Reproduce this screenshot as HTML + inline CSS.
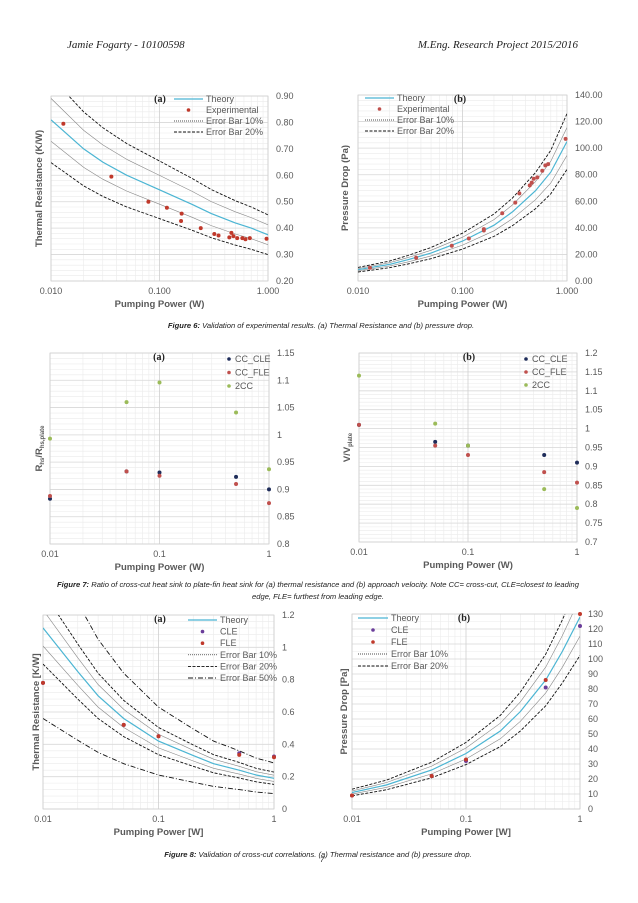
<!DOCTYPE html>
<html><head><meta charset="utf-8">
<style>
html,body{margin:0;padding:0;background:#fff;}
svg{display:block;}
text{font-family:"Liberation Sans",sans-serif;}
.tick{font-size:9px;fill:#595959;}
.ttl{font-size:9.5px;font-weight:bold;fill:#595959;}
.leg{font-size:9px;fill:#595959;}
.cap{font-family:"Liberation Sans",sans-serif;font-size:7.6px;font-style:italic;fill:#222;}
.hdr{font-family:"Liberation Serif",serif;font-size:11px;font-style:italic;fill:#222;}
.pl{font-family:"Liberation Serif",serif;font-size:10px;font-weight:bold;fill:#222;}
</style></head>
<body>
<svg id="page" width="638" height="903" viewBox="0 0 638 903" xmlns="http://www.w3.org/2000/svg">
<text class="hdr" x="67" y="48">Jamie Fogarty - 10100598</text>
<text class="hdr" x="578" y="48" text-anchor="end">M.Eng. Research Project 2015/2016</text>
<text class="cap" x="321" y="328" text-anchor="middle"><tspan font-weight="bold">Figure 6:</tspan> Validation of experimental results. (a) Thermal Resistance and (b) pressure drop.</text>
<text class="cap" x="318" y="587" text-anchor="middle"><tspan font-weight="bold">Figure 7:</tspan> Ratio of cross-cut heat sink to plate-fin heat sink for (a) thermal resistance and (b) approach velocity. Note CC= cross-cut, CLE=closest to leading</text>
<text class="cap" x="318" y="599" text-anchor="middle">edge, FLE= furthest from leading edge.</text>
<text class="cap" x="318" y="857" text-anchor="middle"><tspan font-weight="bold">Figure 8:</tspan> Validation of cross-cut correlations. (a) Thermal resistance and (b) pressure drop.</text>
<text class="cap" x="320" y="862">7</text>
</svg>
<script>
// ---------- data ----------
const f6aTheoryX=[0.01,0.02,0.03,0.05,0.1,0.2,0.3,0.5,0.7,1];
const f6aTheoryY=[0.81,0.70,0.65,0.60,0.545,0.49,0.455,0.42,0.40,0.375];
const f6aExpX=[0.013,0.036,0.079,0.117,0.16,0.158,0.24,0.32,0.35,0.44,0.46,0.48,0.52,0.58,0.62,0.68,0.97];
const f6aExpY=[0.795,0.595,0.50,0.477,0.455,0.427,0.40,0.378,0.372,0.365,0.382,0.37,0.362,0.362,0.358,0.362,0.36];
const f6aYTicks=[0.2,0.3,0.4,0.5,0.6,0.7,0.8,0.9];
const f6aYLabels=["0.20","0.30","0.40","0.50","0.60","0.70","0.80","0.90"];
const f6XLabels=["0.010","0.100","1.000"];

const f6bTheoryX=[0.01,0.02,0.03,0.05,0.1,0.2,0.3,0.5,0.7,1];
const f6bTheoryY=[8.5,12.5,16,21,30,42,52,68,82,105];
const f6bExpX=[0.013,0.036,0.079,0.115,0.16,0.16,0.24,0.32,0.35,0.44,0.46,0.48,0.52,0.58,0.62,0.66,0.97];
const f6bExpY=[10,17.5,26.5,32,38,39,51,59,66,72,74,77,78,83,87,88,107];
const f6bYTicks=[0,20,40,60,80,100,120,140];
const f6bYLabels=["0.00","20.00","40.00","60.00","80.00","100.00","120.00","140.00"];

const f7X=[0.01,0.05,0.1,0.5,1];
const f7aCLE=[0.883,0.933,0.931,0.923,0.90];
const f7aFLE=[0.888,0.933,0.925,0.91,0.875];
const f7a2CC=[0.993,1.06,1.096,1.041,0.937];
const f7aYTicks=[0.8,0.85,0.9,0.95,1,1.05,1.1,1.15];
const f7aYLabels=["0.8","0.85","0.9","0.95","1","1.05","1.1","1.15"];
const f7bCLE=[1.01,0.965,0.955,0.93,0.91];
const f7bFLE=[1.01,0.955,0.93,0.885,0.857];
const f7b2CC=[1.14,1.013,0.955,0.84,0.79];
const f7bYTicks=[0.7,0.75,0.8,0.85,0.9,0.95,1,1.05,1.1,1.15,1.2];
const f7bYLabels=["0.7","0.75","0.8","0.85","0.9","0.95","1","1.05","1.1","1.15","1.2"];
const f7XLabels=["0.01","0.1","1"];

const f8aTheoryX=[0.01,0.02,0.03,0.05,0.1,0.2,0.3,0.5,0.7,1];
const f8aTheoryY=[1.12,0.85,0.70,0.56,0.42,0.33,0.28,0.24,0.21,0.19];
const f8aCLEY=[0.78,0.52,0.45,0.345,0.325];
const f8aFLEY=[0.78,0.52,0.45,0.335,0.32];
const f8aYTicks=[0,0.2,0.4,0.6,0.8,1,1.2];
const f8aYLabels=["0","0.2","0.4","0.6","0.8","1","1.2"];
const f8bTheoryX=[0.01,0.02,0.05,0.1,0.2,0.3,0.5,0.7,1];
const f8bTheoryY=[11,16,26,37,52,65,86,105,128];
const f8bCLEY=[9,22,32,81,122];
const f8bFLEY=[9,22,33,86,130];
const f8bYTicks=[0,10,20,30,40,50,60,70,80,90,100,110,120,130];
const f8bYLabels=["0","10","20","30","40","50","60","70","80","90","100","110","120","130"];
const f8PX=[0.01,0.05,0.1,0.5,1];

// ---------- drawing ----------
const NS="http://www.w3.org/2000/svg";
const page=document.getElementById('page');
function el(tag,attrs,parent){const e=document.createElementNS(NS,tag);for(const k in attrs)e.setAttribute(k,attrs[k]);(parent||page).appendChild(e);return e;}

function chart(c){
  const g=el('g',{});
  
  
  const y0=c.yTicks[0],y1=c.yTicks[c.yTicks.length-1];
  const sx=v=>c.L+(Math.log10(v)+2)/2*(c.R-c.L);
  const sy=v=>c.B-(v-y0)/(y1-y0)*(c.B-c.T);
  for(let d=0.01;d<1;d*=10)for(let m=2;m<10;m++){
    const l=el('line',{x1:sx(d*m),x2:sx(d*m),y1:c.T,y2:c.B,stroke:'#ebebeb','stroke-width':0.6},g);
    
    
  }
  const step=(c.yTicks[1]-c.yTicks[0])/c.ySub;
  for(let i=0;i<(c.yTicks.length-1)*c.ySub;i++){
    const v=y0+i*step;
    const l=el('line',{x1:c.L,x2:c.R,y1:sy(v),y2:sy(v),stroke:'#ebebeb','stroke-width':0.6},g);
    
    
  }
  c.yTicks.forEach((v,i)=>{
    const l=el('line',{x1:c.L,x2:c.R,y1:sy(v),y2:sy(v),stroke:'#d9d9d9','stroke-width':0.8},g);
    
    
    const t=el('text',{x:c.R+8,y:sy(v)+3,class:'tick'},g);
    t.textContent=c.yLabels[i];
    
    
  });
  [0.01,0.1,1].forEach((v,i)=>{
    const l=el('line',{x1:sx(v),x2:sx(v),y1:c.T,y2:c.B,stroke:'#d0d0d0','stroke-width':0.8},g);
    
    
    const t=el('text',{x:sx(v),y:c.B+13,class:'tick','text-anchor':'middle'},g);
    t.textContent=c.xLabels[i];
    
    
  });
  const bx=el('rect',{x:c.L,y:c.T,width:c.R-c.L,height:c.B-c.T,fill:'none',stroke:'#d0d0d0','stroke-width':0.8},g);
  
  
  const clip=el('clipPath',{id:c.name+'-clip'},g);
  el('rect',{x:c.L,y:c.T,width:c.R-c.L,height:c.B-c.T},clip);
  const lines=el('g',{'clip-path':'url(#'+c.name+'-clip)'},g);
  (c.lines||[]).forEach(s=>{
    const d=s.x.map((x,i)=>(i?'L':'M')+sx(x).toFixed(1)+','+sy(s.y[i]*s.f).toFixed(1)).join(' ');
    const p=el('path',{d:d,fill:'none',stroke:s.col,'stroke-width':s.w,'stroke-dasharray':s.dash||'none'},lines);
    
    
  });
  (c.pts||[]).forEach(s=>{
    s.x.forEach((x,i)=>{
      const p=el('circle',{cx:sx(x),cy:sy(s.y[i]),r:2,fill:s.col},g);
      
      
    });
  });
  const xt=el('text',{x:(c.L+c.R)/2,y:c.B+26,class:'ttl','text-anchor':'middle'},g);
  xt.textContent=c.xTitle;
  
  
  const yt=el('text',{x:0,y:0,class:'ttl','text-anchor':'middle',transform:'translate('+c.yTX+','+(c.T+c.B)/2+') rotate(-90)'},g);
  if(c.yTitleHTML){yt.innerHTML=c.yTitleHTML;}else yt.textContent=c.yTitle;
  
  
  const pl=el('text',{x:c.pl[0],y:c.pl[1],class:'pl','text-anchor':'middle'},g);
  pl.textContent=c.pl[2];
  
  
  c.leg.forEach((it,i)=>{
    const y=c.legY+i*c.legDy;
    if(it.type==='line'){
      const l=el('line',{x1:c.legX,x2:c.legX+c.legW,y1:y,y2:y,stroke:it.col,'stroke-width':it.w,'stroke-dasharray':it.dash||'none'},g);
      
      
    }else{
      const m=el('circle',{cx:c.legX+c.legW/2,cy:y,r:1.8,fill:it.col},g);
      
      
    }
    const t=el('text',{x:c.legX+c.legW+3,y:y+3,class:'leg'},g);
    t.textContent=it.label;
    
    
  });
}
const BL='#4bb5d3',K='#111',RD='#c0392b',NV='#1f2d5a',GR='#9bbb59',RB='#c0504d',PU='#6a3d9a';
const d20='3,1.5',d50='5,2,1,2';
function errLines(x,y,fs){
  const out=[{name:'theory-line',x:x,y:y,f:1,col:BL,w:1.2}];
  fs.forEach(f=>{
    const a=Math.abs(f-1);
    const col=a<0.11?'#888':K, dash=a<0.11?'none':(a<0.21?d20:d50), w=a<0.11?0.6:0.9;
    out.push({name:'error-bar-'+Math.round(a*100)+'-line',x:x,y:y,f:f,col:col,w:w,dash:dash});
  });
  return out;
}
chart({name:'fig6a-thermal-resistance',L:51,R:268,T:96,B:281,yTicks:f6aYTicks,yLabels:f6aYLabels,ySub:5,xLabels:f6XLabels,
 xTitle:'Pumping Power (W)',yTitle:'Thermal Resistance  (K/W)',yTX:42,pl:[160,102,'(a)'],
 lines:errLines(f6aTheoryX,f6aTheoryY,[1.1,0.9,1.2,0.8]),
 pts:[{name:'experimental',x:f6aExpX,y:f6aExpY,col:RD}],
 legX:174,legY:99,legDy:11,legW:29,leg:[{type:'line',col:BL,w:1.3,label:'Theory'},{type:'pt',col:RD,label:'Experimental'},{type:'line',col:K,w:0.7,dash:'1,1',label:'Error Bar 10%'},{type:'line',col:K,w:0.9,dash:d20,label:'Error Bar 20%'}]});
chart({name:'fig6b-pressure-drop',L:358,R:567,T:95,B:281,yTicks:f6bYTicks,yLabels:f6bYLabels,ySub:5,xLabels:f6XLabels,
 xTitle:'Pumping Power (W)',yTitle:'Pressure Drop (Pa)',yTX:348,pl:[460,102,'(b)'],
 lines:errLines(f6bTheoryX,f6bTheoryY,[1.1,0.9,1.2,0.8]),
 pts:[{name:'experimental',x:f6bExpX,y:f6bExpY,col:RB}],
 legX:365,legY:98,legDy:11,legW:29,leg:[{type:'line',col:BL,w:1.3,label:'Theory'},{type:'pt',col:RB,label:'Experimental'},{type:'line',col:K,w:0.7,dash:'1,1',label:'Error Bar 10%'},{type:'line',col:K,w:0.9,dash:d20,label:'Error Bar 20%'}]});
chart({name:'fig7a-resistance-ratio',L:50,R:269,T:353,B:544,yTicks:f7aYTicks,yLabels:f7aYLabels,ySub:5,xLabels:f7XLabels,
 xTitle:'Pumping Power (W)',yTitleHTML:'R<tspan font-size="6" dy="2">hs</tspan><tspan dy="-2">/R</tspan><tspan font-size="6" dy="2">hs,plate</tspan>',yTX:42,pl:[159,360,'(a)'],
 pts:[{name:'cc-cle',x:f7X,y:f7aCLE,col:NV},{name:'cc-fle',x:f7X,y:f7aFLE,col:RB},{name:'2cc',x:f7X,y:f7a2CC,col:GR}],
 legX:226,legY:359,legDy:13.5,legW:6,leg:[{type:'pt',col:NV,label:'CC_CLE'},{type:'pt',col:RB,label:'CC_FLE'},{type:'pt',col:GR,label:'2CC'}]});
chart({name:'fig7b-velocity-ratio',L:359,R:577,T:353,B:542,yTicks:f7bYTicks,yLabels:f7bYLabels,ySub:5,xLabels:f7XLabels,
 xTitle:'Pumping Power (W)',yTitleHTML:'V/V<tspan font-size="6" dy="2">plate</tspan>',yTX:350,pl:[469,360,'(b)'],
 pts:[{name:'cc-cle',x:f7X,y:f7bCLE,col:NV},{name:'cc-fle',x:f7X,y:f7bFLE,col:RB},{name:'2cc',x:f7X,y:f7b2CC,col:GR}],
 legX:523,legY:359,legDy:13,legW:6,leg:[{type:'pt',col:NV,label:'CC_CLE'},{type:'pt',col:RB,label:'CC_FLE'},{type:'pt',col:GR,label:'2CC'}]});
chart({name:'fig8a-thermal-resistance',L:43,R:274,T:615,B:809,yTicks:f8aYTicks,yLabels:f8aYLabels,ySub:5,xLabels:f7XLabels,
 xTitle:'Pumping Power [W]',yTitle:'Thermal Resistance [K/W]',yTX:39,pl:[160,622,'(a)'],
 lines:errLines(f8aTheoryX,f8aTheoryY,[1.1,0.9,1.2,0.8,1.5,0.5]),
 pts:[{name:'cle',x:f8PX,y:f8aCLEY,col:PU},{name:'fle',x:f8PX,y:f8aFLEY,col:RD}],
 legX:188,legY:620,legDy:11.6,legW:29,leg:[{type:'line',col:BL,w:1.3,label:'Theory'},{type:'pt',col:PU,label:'CLE'},{type:'pt',col:RD,label:'FLE'},{type:'line',col:K,w:0.7,dash:'1,1',label:'Error Bar 10%'},{type:'line',col:K,w:0.9,dash:d20,label:'Error Bar 20%'},{type:'line',col:K,w:0.9,dash:d50,label:'Error Bar 50%'}]});
chart({name:'fig8b-pressure-drop',L:352,R:580,T:614,B:809,yTicks:f8bYTicks,yLabels:f8bYLabels,ySub:2,xLabels:f7XLabels,
 xTitle:'Pumping Power [W]',yTitle:'Pressure Drop [Pa]',yTX:347,pl:[464,621,'(b)'],
 lines:errLines(f8bTheoryX,f8bTheoryY,[1.1,0.9,1.2,0.8]),
 pts:[{name:'cle',x:f8PX,y:f8bCLEY,col:PU},{name:'fle',x:f8PX,y:f8bFLEY,col:RD}],
 legX:358,legY:618,legDy:12,legW:30,leg:[{type:'line',col:BL,w:1.3,label:'Theory'},{type:'pt',col:PU,label:'CLE'},{type:'pt',col:RD,label:'FLE'},{type:'line',col:K,w:0.7,dash:'1,1',label:'Error Bar 10%'},{type:'line',col:K,w:0.9,dash:d20,label:'Error Bar 20%'}]});
</script>
</body></html>
